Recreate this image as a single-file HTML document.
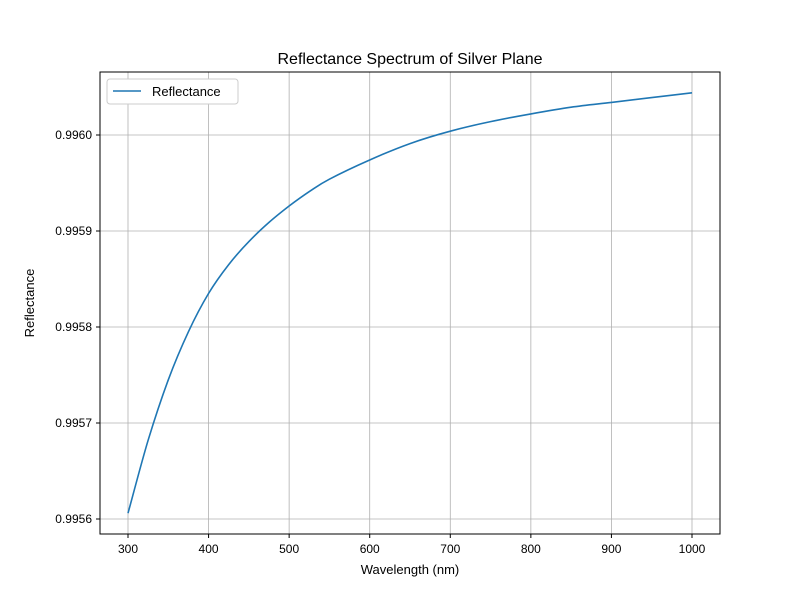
<!DOCTYPE html>
<html><head><meta charset="utf-8"><style>
body{margin:0;background:#fff;font-family:"Liberation Sans","DejaVu Sans",sans-serif;}
</style></head><body>
<svg id="chart" width="800" height="600" xmlns="http://www.w3.org/2000/svg">
<rect width="800" height="600" fill="#fff"/>
<text x="410" y="64" text-anchor="middle" font-size="16">Reflectance Spectrum of Silver Plane</text>
<g id="grid"></g>
<g id="ticks"></g>
<path id="line" fill="none" stroke="#1f77b4" stroke-width="1.6"/>
<rect x="100" y="72" width="620" height="462" fill="none" stroke="#000" stroke-width="1"/>
<text x="410" y="574" text-anchor="middle" font-size="13">Wavelength (nm)</text>
<text transform="translate(34,303) rotate(-90)" text-anchor="middle" font-size="13">Reflectance</text>
<g>
<rect x="107" y="79" width="131" height="25" rx="3" fill="#fff" stroke="#ccc"/>
<line x1="113" y1="91" x2="141" y2="91" stroke="#1f77b4" stroke-width="1.6"/>
<text x="152" y="96" font-size="13">Reflectance</text>
</g>
</svg>
<script>
const wavelengths=[300,325,350,375,400,425,450,475,500,525,550,600,650,700,750,800,850,900,950,1000];
const reflectance=[0.995606,0.995682,0.995745,0.995795,0.995835,0.995865,0.995889,0.995909,0.995926,0.995941,0.995954,0.995974,0.995991,0.996004,0.996014,0.996022,0.996029,0.996034,0.996039,0.996044];
const xTicks=[300,400,500,600,700,800,900,1000];
const yTicks=[0.9956,0.9957,0.9958,0.9959,0.9960];
const yLabels=["0.9956","0.9957","0.9958","0.9959","0.9960"];
const X=v=>128+(v-300)*(692-128)/700;
const Y=v=>519-(v-0.9956)*960000;
const NS="http://www.w3.org/2000/svg";
const grid=document.getElementById('grid'),ticks=document.getElementById('ticks');
function mk(tag,attrs,parent){const e=document.createElementNS(NS,tag);for(const k in attrs)e.setAttribute(k,attrs[k]);parent.appendChild(e);return e;}
xTicks.forEach(t=>{
 const x=X(t);
 const g=mk('line',{x1:x,y1:72,x2:x,y2:534,stroke:'#b0b0b0','stroke-width':0.8},grid);
 
 
 const tk=mk('line',{x1:x,y1:534,x2:x,y2:538,stroke:'#000'},ticks);
 
 
 const tx=mk('text',{x:x,y:553,'text-anchor':'middle','font-size':12},ticks);
 tx.textContent=t;
 
 
});
yTicks.forEach((t,i)=>{
 const y=Y(t);
 const g=mk('line',{x1:100,y1:y,x2:720,y2:y,stroke:'#b0b0b0','stroke-width':0.8},grid);
 
 
 const tk=mk('line',{x1:96,y1:y,x2:100,y2:y,stroke:'#000'},ticks);
 
 
 const tx=mk('text',{x:92,y:y+4,'text-anchor':'end','font-size':12},ticks);
 tx.textContent=yLabels[i];
 
 
});
const P=wavelengths.map((w,i)=>[X(w),Y(reflectance[i])]);
let d='M'+P[0][0].toFixed(1)+','+P[0][1].toFixed(1);
for(let i=0;i<P.length-1;i++){
 const p0=P[i-1]||P[i],p1=P[i],p2=P[i+1],p3=P[i+2]||P[i+1];
 const c1=[p1[0]+(p2[0]-p0[0])/6,p1[1]+(p2[1]-p0[1])/6];
 const c2=[p2[0]-(p3[0]-p1[0])/6,p2[1]-(p3[1]-p1[1])/6];
 d+='C'+c1.map(v=>v.toFixed(1)).join(',')+' '+c2.map(v=>v.toFixed(1)).join(',')+' '+p2.map(v=>v.toFixed(1)).join(',');
}
document.getElementById('line').setAttribute('d',d);
</script>
</body></html>
